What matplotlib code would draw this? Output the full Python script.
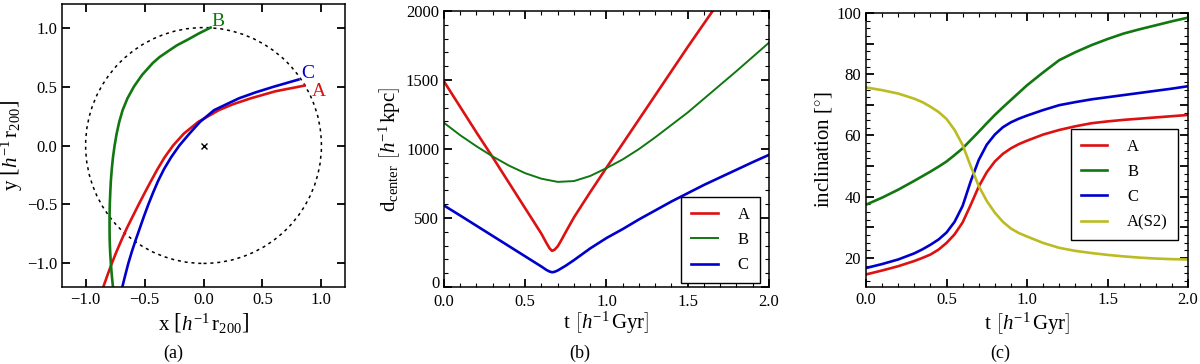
import matplotlib
matplotlib.use("Agg")
import matplotlib.pyplot as plt
from matplotlib.patches import Circle
from matplotlib.ticker import MultipleLocator, FuncFormatter
from matplotlib.transforms import ScaledTranslation

plt.rcParams['font.family'] = ['Liberation Serif', 'DejaVu Serif']
plt.rcParams['mathtext.fontset'] = 'custom'
plt.rcParams['mathtext.rm'] = 'Liberation Serif'
plt.rcParams['mathtext.it'] = 'Liberation Serif:italic'
plt.rcParams['axes.unicode_minus'] = True

RED = '#dd1111'
GREEN = '#117711'
BLUE = '#0000cc'
YELLOW = '#bbbb22'

# (a) orbits in units of h^-1 r200
orbit_A_y = [-1.2, -1.1, -1.0, -0.9, -0.8, -0.7, -0.6, -0.5, -0.4, -0.3, -0.2, -0.1,
             0.0, 0.1, 0.2, 0.3, 0.35, 0.4, 0.46, 0.508]
orbit_A_x = [-0.85, -0.815, -0.778, -0.738, -0.695, -0.65, -0.600, -0.550, -0.498, -0.445,
             -0.39, -0.33, -0.258, -0.168, -0.045, 0.13, 0.25, 0.40, 0.61, 0.856]
orbit_B_y = [-1.2, -1.1, -1.0, -0.9, -0.8, -0.7, -0.6, -0.5, -0.4, -0.3, -0.2, -0.1,
             0.0, 0.1, 0.2, 0.3, 0.4, 0.5, 0.6, 0.7, 0.75, 0.8, 0.85, 0.9, 0.95, 1.0]
orbit_B_x = [-0.768, -0.778, -0.786, -0.792, -0.796, -0.797, -0.797, -0.795, -0.791, -0.786,
             -0.778, -0.768, -0.754, -0.737, -0.715, -0.686, -0.645, -0.59, -0.52, -0.43,
             -0.373, -0.30, -0.225, -0.13, -0.04, 0.06]
orbit_C_y = [-1.2, -1.1, -1.0, -0.9, -0.8, -0.7, -0.6, -0.5, -0.4, -0.3, -0.2, -0.1,
             0.0, 0.1, 0.2, 0.3, 0.4, 0.45, 0.5, 0.559]
orbit_C_x = [-0.689, -0.664, -0.638, -0.608, -0.575, -0.54, -0.505, -0.468, -0.428, -0.385,
             -0.335, -0.275, -0.205, -0.12, -0.03, 0.09, 0.30, 0.44, 0.60, 0.805]
r_vir = 1.0

# (b) distance to centre [h^-1 kpc]
tA_d = [0, 0.1, 0.2, 0.3, 0.4, 0.5, 0.55, 0.6, 0.63, 0.65, 0.665, 0.68, 0.70, 0.72, 0.75,
        0.8, 0.9, 1.0, 1.1, 1.2, 1.3, 1.4, 1.5, 1.6, 1.7]
dA = [1490, 1305, 1120, 940, 755, 570, 478, 385, 320, 280, 262, 270, 295, 335, 400,
      505, 688, 865, 1040, 1215, 1390, 1565, 1740, 1910, 2080]
tB_d = [0, 0.1, 0.2, 0.3, 0.4, 0.5, 0.6, 0.7, 0.8, 0.9, 1.0, 1.1, 1.2, 1.3, 1.4,
        1.5, 1.6, 1.7, 1.8, 1.9, 2.0]
dB = [1190, 1100, 1020, 946, 880, 825, 785, 762, 768, 805, 862, 925, 1000, 1085, 1175,
      1265, 1365, 1465, 1565, 1668, 1771]
tC_d = [0, 0.1, 0.2, 0.3, 0.4, 0.5, 0.55, 0.6, 0.63, 0.65, 0.665, 0.68, 0.7, 0.75, 0.8,
        0.9, 1.0, 1.1, 1.2, 1.3, 1.4, 1.5, 1.6, 1.7, 1.8, 1.9, 2.0]
dC = [591, 518, 444, 370, 296, 222, 185, 148, 124, 112, 107, 110, 120, 155, 195,
      280, 355, 420, 490, 555, 620, 680, 740, 795, 850, 905, 958]

# (c) inclination [deg]
t_inc = [0, 0.1, 0.2, 0.3, 0.35, 0.4, 0.45, 0.5, 0.55, 0.6, 0.65, 0.7, 0.75, 0.8, 0.85,
         0.9, 0.95, 1.0, 1.1, 1.2, 1.3, 1.4, 1.5, 1.6, 1.7, 1.8, 1.9, 2.0]
incA = [14.6, 15.9, 17.3, 19.0, 20.0, 21.1, 22.7, 24.9, 27.7, 31.6, 37.3, 43.3, 48.0, 51.5,
        54.0, 55.8, 57.2, 58.3, 60.3, 61.8, 63.0, 64.0, 64.6, 65.1, 65.5, 65.9, 66.3, 66.7]
incB = [37.4, 39.7, 42.3, 45.2, 46.7, 48.2, 49.8, 51.5, 53.6, 55.8, 58.5, 61.2, 64.0, 66.7,
        69.2, 71.6, 74.0, 76.4, 80.6, 84.6, 87.2, 89.5, 91.5, 93.3, 94.7, 96.0, 97.3, 98.5]
incC = [16.7, 18.0, 19.5, 21.5, 22.8, 24.3, 26.0, 28.3, 31.8, 37.0, 45.0, 52.0, 57.0, 60.3,
        62.7, 64.3, 65.5, 66.5, 68.3, 69.9, 70.9, 71.8, 72.5, 73.2, 73.9, 74.6, 75.3, 76.1]
incAS2 = [75.7, 74.8, 73.7, 72.0, 70.9, 69.4, 67.7, 65.4, 61.8, 56.9, 50.0, 43.5, 38.6, 34.8,
          31.8, 29.6, 28.1, 27.0, 24.9, 23.3, 22.3, 21.6, 21.0, 20.5, 20.1, 19.8, 19.6, 19.5]

fig = plt.figure(figsize=(12, 3.64), dpi=100)
axa = fig.add_axes([0.0517, 0.2115, 0.2358, 0.7775])
axb = fig.add_axes([0.370, 0.2115, 0.2708, 0.758])
axc = fig.add_axes([0.7217, 0.2115, 0.2683, 0.7527])


def style(ax):
    for s in ax.spines.values():
        s.set_linewidth(1.1)
    ax.tick_params(which='both', direction='in', top=True, right=True, labelsize=12)
    ax.tick_params(which='major', length=6, width=1.3)
    ax.tick_params(which='minor', length=3, width=0.8)


def signed(v, p):
    return f'{v:.1f}'.replace('-', '\u2212')


# panel (a)
axa.add_patch(Circle((0, 0), r_vir, fill=False, ls=(0, (2, 2.5)), lw=1.1, color='k'))
axa.plot([0], [0], marker='x', ms=4, mew=1, color='k')
axa.plot(orbit_A_x, orbit_A_y, color=RED, lw=1.9)
axa.plot(orbit_C_x, orbit_C_y, color=BLUE, lw=1.9)
axa.plot(orbit_B_x, orbit_B_y, color=GREEN, lw=1.9)
axa.text(orbit_B_x[-1] + 0.01, orbit_B_y[-1] + 0.01, 'B', color=GREEN, fontsize=14)
axa.text(orbit_C_x[-1] + 0.02, orbit_C_y[-1] + 0.01, 'C', color=BLUE, fontsize=14)
axa.text(orbit_A_x[-1] + 0.06, orbit_A_y[-1] - 0.09, 'A', color=RED, fontsize=14)
axa.set_xlim(-1.2, 1.2)
axa.set_ylim(-1.2, 1.2)
axa.xaxis.set_major_locator(MultipleLocator(0.5))
axa.yaxis.set_major_locator(MultipleLocator(0.5))
axa.xaxis.set_major_formatter(FuncFormatter(signed))
axa.yaxis.set_major_formatter(FuncFormatter(signed))
style(axa)
axa.set_xlabel(r'x $\left[\mathit{h}^{-1}\,\mathrm{r}_{200}\right]$', fontsize=15, labelpad=2)
axa.set_ylabel(r'y $\left[\mathit{h}^{-1}\,\mathrm{r}_{200}\right]$', fontsize=15, labelpad=2)

# panel (b)
axb.plot(tA_d, dA, color=RED, lw=1.9, label='A')
axb.plot(tB_d, dB, color=GREEN, lw=1.4, label='B')
axb.plot(tC_d, dC, color=BLUE, lw=1.9, label='C')
axb.set_xlim(0, 2)
axb.set_ylim(0, 2000)
axb.xaxis.set_major_locator(MultipleLocator(0.5))
axb.xaxis.set_minor_locator(MultipleLocator(0.1))
axb.yaxis.set_major_locator(MultipleLocator(500))
axb.yaxis.set_minor_locator(MultipleLocator(100))
axb.xaxis.set_major_formatter(FuncFormatter(lambda v, p: f'{v:.1f}'))
style(axb)
axb.tick_params(axis='x', pad=5)
axb.set_xlabel(r't $\left[\mathit{h}^{-1}\,\mathrm{Gyr}\right]$', fontsize=15, labelpad=0)
axb.set_ylabel(r'd$_\mathrm{center}$ $\left[\mathit{h}^{-1}\,\mathrm{kpc}\right]$', fontsize=15, labelpad=2)
leg = axb.legend(loc='upper right', bbox_to_anchor=(0.972, 0.326), fontsize=12,
                 handlelength=1.6, handletextpad=1.2, labelspacing=0.55, borderpad=0.6,
                 fancybox=False, framealpha=1, edgecolor='k', borderaxespad=0)
leg.get_frame().set_linewidth(1.0)

# panel (c)
axc.plot(t_inc, incA, color=RED, lw=1.9, label='A')
axc.plot(t_inc, incB, color=GREEN, lw=1.9, label='B')
axc.plot(t_inc, incC, color=BLUE, lw=1.9, label='C')
axc.plot(t_inc, incAS2, color=YELLOW, lw=1.9, label='A(S2)')
axc.set_xlim(0, 2)
axc.set_ylim(10.5, 100)
axc.xaxis.set_major_locator(MultipleLocator(0.5))
axc.xaxis.set_minor_locator(MultipleLocator(0.1))
axc.yaxis.set_major_locator(MultipleLocator(10))
axc.yaxis.set_minor_locator(MultipleLocator(2.5))
axc.yaxis.set_major_formatter(FuncFormatter(lambda v, p: f'{v:.0f}' if round(v) % 20 == 0 else ''))
axc.xaxis.set_major_formatter(FuncFormatter(lambda v, p: f'{v:.1f}'))
style(axc)
axc.set_xlabel(r't $\left[\mathit{h}^{-1}\,\mathrm{Gyr}\right]$', fontsize=15, labelpad=2)
axc.set_ylabel(r'inclination [$^{\circ}$]', fontsize=15, labelpad=2)
leg = axc.legend(loc='upper right', bbox_to_anchor=(0.969, 0.577), fontsize=12,
                 handlelength=1.6, handletextpad=1.2, labelspacing=0.55, borderpad=0.6,
                 fancybox=False, framealpha=1, edgecolor='k', borderaxespad=0)
leg.get_frame().set_linewidth(1.0)

fig.text(173 / 1200, 1 - 353 / 364, '(a)', ha='center', va='center', fontsize=13)
fig.text(580 / 1200, 1 - 353 / 364, '(b)', ha='center', va='center', fontsize=13)
fig.text(1000 / 1200, 1 - 353 / 364, '(c)', ha='center', va='center', fontsize=13)

# nudge the "0" y label of (b) up a little so it clears the "0.0" x label
fig.canvas.draw()
for lab in axb.get_yticklabels():
    if lab.get_text() == '0':
        lab.set_transform(lab.get_transform() + ScaledTranslation(0, 3.5 / 72, fig.dpi_scale_trans))

fig.savefig('out.png', dpi=100)
